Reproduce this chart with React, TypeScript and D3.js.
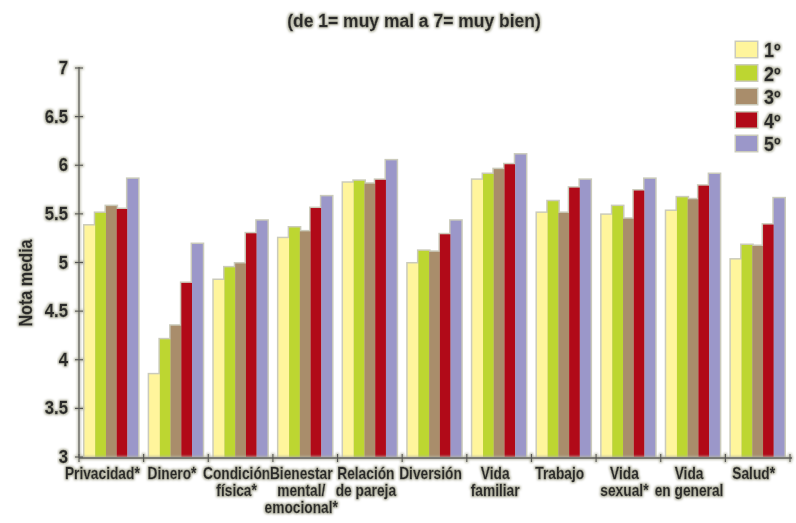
import React from "react";
import * as d3 from "d3";

const categories = [
  ["Privacidad*"],
  ["Dinero*"],
  ["Condición", "física*"],
  ["Bienestar", "mental/", "emocional*"],
  ["Relación", "de pareja"],
  ["Diversión"],
  ["Vida", "familiar"],
  ["Trabajo"],
  ["Vida", "sexual*"],
  ["Vida", "en general"],
  ["Salud*"],
];

const seriesNames = ["1º", "2º", "3º", "4º", "5º"];
const seriesColors = ["#fff59c", "#bdd631", "#a98d6b", "#b10a18", "#9b97c9"];

const curso1 = [5.38, 3.85, 4.82, 5.25, 5.82, 4.99, 5.85, 5.51, 5.49, 5.53, 5.03];
const curso2 = [5.51, 4.21, 4.95, 5.36, 5.84, 5.12, 5.91, 5.63, 5.58, 5.67, 5.18];
const curso3 = [5.58, 4.35, 4.99, 5.32, 5.81, 5.11, 5.96, 5.51, 5.45, 5.65, 5.17];
const curso4 = [5.55, 4.79, 5.30, 5.56, 5.85, 5.29, 6.01, 5.77, 5.74, 5.79, 5.39];
const curso5 = [5.86, 5.19, 5.43, 5.68, 6.05, 5.43, 6.11, 5.85, 5.86, 5.91, 5.66];

const yTicks = [3, 3.5, 4, 4.5, 5, 5.5, 6, 6.5, 7];
const title = "(de 1= muy mal a 7= muy bien)";
const yTitle = "Nota media";

const series = [curso1, curso2, curso3, curso4, curso5];

const W = 796;
const H = 523;
const left = 79;
const right = 790;
const top = 68;
const bottom = 457;

const font = "'Liberation Sans', Arial, sans-serif";
const ink = "#2a2a2a";

// condensed bold label: draws text squeezed horizontally around its anchor
function Label(props: {
  x: number;
  y: number;
  size: number;
  anchor?: "start" | "middle" | "end";
  sx?: number;
  children: React.ReactNode;
}) {
  const { x, y, size, anchor = "start", sx = 0.9, children } = props;
  return (
    <text
      transform={`translate(${x},${y}) scale(${sx},1)`}
      textAnchor={anchor}
      fontSize={size}
      fontFamily={font}
      fontWeight={700}
      fill={ink}
      stroke={ink}
      strokeWidth={0.3}
      filter="url(#halo)"
    >
      {children}
    </text>
  );
}

export default function App() {
  const x = d3.scaleBand<number>().domain(d3.range(categories.length)).range([left, right]).padding(0);
  const inner = d3.scaleBand<number>().domain(d3.range(series.length)).range([5.5, x.bandwidth() - 5.5]).padding(0);
  const y = d3.scaleLinear().domain([3, 7]).range([bottom, top]);

  const bars: { k: string; x: number; y: number; w: number; h: number; c: string }[] = [];
  categories.forEach((_, i) => {
    series.forEach((vals, s) => {
      const bx = (x(i) as number) + (inner(s) as number);
      const by = y(vals[i]);
      bars.push({ k: `${i}-${s}`, x: bx, y: by, w: inner.bandwidth(), h: bottom - by, c: seriesColors[s] });
    });
  });

  return (
    <svg width={W} height={H} style={{ position: "absolute", left: 0, top: 0, background: "#fff" }}>
      <defs>
        <filter id="halo" x="-10%" y="-30%" width="120%" height="160%">
          <feMorphology in="SourceAlpha" operator="dilate" radius="1" result="d" />
          <feGaussianBlur in="d" stdDeviation="1" result="b" />
          <feFlood floodColor="#b5b5a3" result="f" />
          <feComposite in="f" in2="b" operator="in" result="g" />
          <feMerge>
            <feMergeNode in="g" />
            <feMergeNode in="SourceGraphic" />
          </feMerge>
        </filter>
      </defs>

      <Label x={414} y={27} size={19} anchor="middle" sx={0.92}>
        {title}
      </Label>

      {/* bar outlines */}
      {bars.map((b) => (
        <rect key={"o" + b.k} x={b.x - 1.5} y={b.y - 1.5} width={b.w + 3} height={b.h + 1.5} fill="#cbcbbb" />
      ))}
      {bars.map((b) => (
        <rect key={b.k} x={b.x} y={b.y} width={b.w} height={b.h} fill={b.c} />
      ))}

      {/* axes */}
      <g filter="url(#halo)">
        <line x1={left} x2={left} y1={top - 1} y2={bottom + 1} stroke="#555" strokeWidth={1.3} />
        {yTicks.map((t) => (
          <line key={t} x1={left - 4} x2={left + 4} y1={y(t)} y2={y(t)} stroke="#555" strokeWidth={1.2} />
        ))}
        <line x1={left} x2={right + 2} y1={bottom + 1} y2={bottom + 1} stroke="#555" strokeWidth={1.3} />
        {d3.range(categories.length + 1).map((i) => {
          const tx = left + i * x.bandwidth();
          return <line key={i} x1={tx} x2={tx} y1={bottom - 3} y2={bottom + 5} stroke="#555" strokeWidth={1.2} />;
        })}
      </g>

      {yTicks.map((t) => (
        <Label key={t} x={left - 11} y={y(t) + 6} size={19} anchor="end" sx={0.88}>
          {String(t)}
        </Label>
      ))}

      <text
        transform={`translate(32,283) rotate(-90) scale(0.9,1)`}
        textAnchor="middle"
        fontSize={18}
        fontFamily={font}
        fontWeight={700}
        fill={ink}
        stroke={ink}
        strokeWidth={0.3}
        filter="url(#halo)"
      >
        {yTitle}
      </text>

      {categories.map((lines, i) => {
        const cx = (x(i) as number) + x.bandwidth() / 2 - (i === 0 ? 9 : 4);
        return (
          <g key={i}>
            {lines.map((l, j) => (
              <Label key={j} x={cx} y={479 + j * 17} size={16} anchor="middle" sx={0.86}>
                {l}
              </Label>
            ))}
          </g>
        );
      })}

      {/* legend */}
      {seriesNames.map((n, s) => (
        <g key={n} transform={`translate(736,${42 + s * 23.5})`}>
          <rect x={-1.5} y={-1.5} width={24} height={18} fill="#cbcbbb" />
          <rect x={0} y={0} width={21} height={15} fill={seriesColors[s]} />
          <Label x={28} y={15} size={20} sx={0.9}>
            {n}
          </Label>
        </g>
      ))}
    </svg>
  );
}
